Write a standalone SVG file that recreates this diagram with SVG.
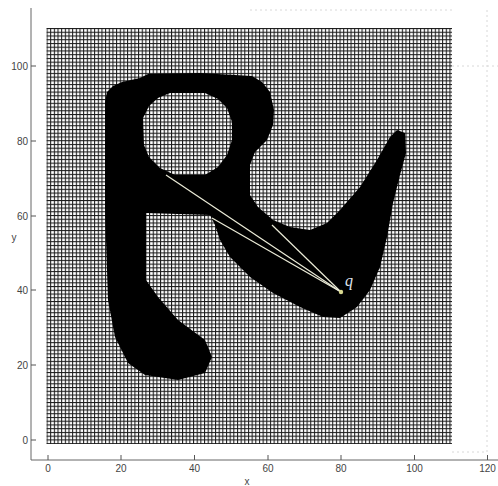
<svg xmlns="http://www.w3.org/2000/svg" width="498" height="486" viewBox="0 0 498 486">
  <style>
    .tick { stroke: #555; stroke-width: 1; }
    .faint { stroke: #d8d8d8; stroke-width: 1; stroke-dasharray: 2 3; fill: none; }
    .lbl { font-family: "Liberation Sans", Arial, sans-serif; font-size: 10px; fill: #444; }
    .ray { stroke: #ececd8; stroke-width: 1.2; fill: none; }
  </style>
  <defs>
    <pattern id="grid" patternUnits="userSpaceOnUse" x="46.5" y="28" width="3.663" height="3.74">
      <rect width="3.663" height="3.74" fill="#ffffff"/>
      <line x1="0.5" y1="0" x2="0.5" y2="3.74" stroke="#1a1a1a" stroke-width="1.1"/>
      <line x1="0" y1="0.5" x2="3.663" y2="0.5" stroke="#1a1a1a" stroke-width="1.1"/>
    </pattern>
  </defs>
  <rect width="498" height="486" fill="#ffffff"/>

  <g id="frame">
    <line x1="31" y1="8" x2="31" y2="460" stroke="#666" stroke-width="1"/>
    <line x1="31" y1="460" x2="498" y2="460" stroke="#666" stroke-width="1"/>
    <line class="faint" x1="487" y1="10" x2="487" y2="452"/>
    <line class="faint" x1="452" y1="66" x2="498" y2="66"/>
    <line class="faint" x1="452" y1="452" x2="487" y2="452"/>
    <line class="faint" x1="250" y1="10" x2="452" y2="10"/>
  </g>

  <g id="grid-area">
    <rect x="46.5" y="28" width="405.5" height="416" fill="url(#grid)"/>
  </g>

  <g id="shape">
    <path fill="#000" fill-rule="evenodd" d="M105,102 L107,92 L113,86 L122,82 L140,78 L148,74 L200,73 L252,76 L262,82 L270,92 L274,110 L273,125 L267,140 L255,152 L250,165 L250,195 L258,207 L273,220 L290,227 L310,230 L327,223 L340,210 L360,187 L377,160 L390,137 L397,130 L405,133 L406,153 L400,175 L393,203 L387,237 L380,267 L370,290 L357,307 L340,318 L323,317 L300,307 L273,293 L250,277 L230,257 L220,240 L215,225 L210,215 L146,213 L146,280 L158,297 L178,320 L205,340 L212,357 L205,373 L178,380 L145,375 L128,363 L115,337 L108,300 L105,210 Z
    M170,93 L205,93 L218,99 L227,108 L232,122 L232,140 L227,155 L218,167 L205,175 L175,175 L160,168 L149,157 L144,145 L143,118 L149,106 L158,98 Z"/>
  </g>

  <g id="connectors">
    <line class="ray" x1="166" y1="175" x2="341" y2="292"/>
    <line class="ray" x1="212" y1="218" x2="341" y2="292"/>
    <line class="ray" x1="272" y1="225" x2="341" y2="292"/>
  </g>

  <g id="point-q">
    <circle cx="341" cy="292" r="2.2" fill="#d8d890"/>
    <text x="345" y="286" font-family="'Liberation Serif', 'Times New Roman', serif" font-style="italic" font-size="16" fill="#dfe3ee">q</text>
  </g>

  <g id="y-axis">
    <line class="tick" x1="31" y1="440" x2="36" y2="440"/>
    <line class="tick" x1="31" y1="365" x2="36" y2="365"/>
    <line class="tick" x1="31" y1="290" x2="36" y2="290"/>
    <line class="tick" x1="31" y1="216" x2="36" y2="216"/>
    <line class="tick" x1="31" y1="141" x2="36" y2="141"/>
    <line class="tick" x1="31" y1="66" x2="36" y2="66"/>
    <text class="lbl" x="28" y="443.5" text-anchor="end">0</text>
    <text class="lbl" x="28" y="368.5" text-anchor="end">20</text>
    <text class="lbl" x="28" y="293.5" text-anchor="end">40</text>
    <text class="lbl" x="28" y="219.5" text-anchor="end">60</text>
    <text class="lbl" x="28" y="144.5" text-anchor="end">80</text>
    <text class="lbl" x="28" y="69.5" text-anchor="end">100</text>
    <text class="lbl" x="14" y="241" text-anchor="middle">y</text>
  </g>

  <g id="x-axis">
    <line class="tick" x1="48" y1="455" x2="48" y2="460"/>
    <line class="tick" x1="121" y1="455" x2="121" y2="460"/>
    <line class="tick" x1="194.5" y1="455" x2="194.5" y2="460"/>
    <line class="tick" x1="268" y1="455" x2="268" y2="460"/>
    <line class="tick" x1="341" y1="455" x2="341" y2="460"/>
    <line class="tick" x1="414.5" y1="455" x2="414.5" y2="460"/>
    <line class="tick" x1="487.5" y1="455" x2="487.5" y2="460"/>
    <text class="lbl" x="48" y="472" text-anchor="middle">0</text>
    <text class="lbl" x="121" y="472" text-anchor="middle">20</text>
    <text class="lbl" x="194.5" y="472" text-anchor="middle">40</text>
    <text class="lbl" x="268" y="472" text-anchor="middle">60</text>
    <text class="lbl" x="341" y="472" text-anchor="middle">80</text>
    <text class="lbl" x="414.5" y="472" text-anchor="middle">100</text>
    <text class="lbl" x="487.5" y="472" text-anchor="middle">120</text>
    <text class="lbl" x="247" y="485" text-anchor="middle">x</text>
  </g>
</svg>
